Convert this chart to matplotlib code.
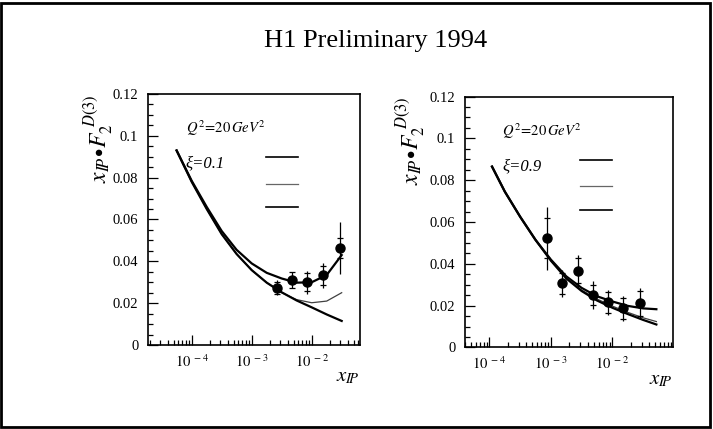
import numpy as np
import matplotlib
matplotlib.use('Agg')
import matplotlib.pyplot as plt
from matplotlib.ticker import LogLocator, FixedLocator, MultipleLocator
from matplotlib.patches import Rectangle

plt.rcParams['font.family'] = ['Liberation Serif', 'DejaVu Serif']
plt.rcParams['mathtext.fontset'] = 'stix'

# --- data ---
# left panel, xi = 0.1
xi1_x = [2.6e-3, 4.7e-3, 8.3e-3, 1.52e-2, 2.93e-2]
xi1_y = [0.0274, 0.0311, 0.0301, 0.0333, 0.0465]
xi1_stat = [0.0028, 0.0037, 0.0045, 0.0045, 0.0048]
xi1_tot = [0.0035, 0.0040, 0.0055, 0.0060, 0.0125]

xi1_curve_x = [5.6e-5, 1e-4, 1.78e-4, 3.16e-4, 5.6e-4, 1e-3, 1.78e-3, 3.16e-3, 5.6e-3, 1e-2, 1.78e-2, 3.16e-2]
xi1_fit_a = [0.093, 0.0785, 0.066, 0.0545, 0.0455, 0.039, 0.0345, 0.0318, 0.0298, 0.0300, 0.0335, 0.043]
xi1_fit_b = [0.093, 0.078, 0.065, 0.053, 0.0435, 0.0358, 0.0298, 0.0250, 0.0217, 0.0202, 0.0210, 0.025]
xi1_fit_c = [0.093, 0.078, 0.065, 0.053, 0.0435, 0.0358, 0.0298, 0.0252, 0.0213, 0.0180, 0.0146, 0.0115]

# right panel, xi = 0.9
xi9_x = [8.6e-4, 1.5e-3, 2.74e-3, 4.8e-3, 8.6e-3, 1.51e-2, 2.82e-2]
xi9_y = [0.0522, 0.0307, 0.0366, 0.0251, 0.0216, 0.0187, 0.0211]
xi9_stat = [0.0095, 0.0050, 0.0060, 0.0050, 0.0050, 0.0050, 0.0060]
xi9_tot = [0.0152, 0.0065, 0.0075, 0.0065, 0.0060, 0.0060, 0.0075]

xi9_curve_x = [1.1e-4, 1.78e-4, 3.16e-4, 5.6e-4, 1e-3, 1.78e-3, 3.16e-3, 5.6e-3, 1e-2, 1.78e-2, 3.16e-2, 5.2e-2]
xi9_fit_a = [0.0865, 0.0745, 0.0625, 0.0515, 0.0420, 0.0340, 0.0285, 0.0245, 0.0220, 0.0199, 0.0187, 0.0183]
xi9_fit_b = [0.0865, 0.0745, 0.0625, 0.0515, 0.0415, 0.0333, 0.0275, 0.0232, 0.0198, 0.0168, 0.0142, 0.0124]
xi9_fit_c = [0.0865, 0.0745, 0.0625, 0.0515, 0.0415, 0.0330, 0.0270, 0.0225, 0.0190, 0.0160, 0.0132, 0.0110]

y_ticks = [0, 0.02, 0.04, 0.06, 0.08, 0.1, 0.12]
y_tick_labels = ['0', '0.02', '0.04', '0.06', '0.08', '0.1', '0.12']
x_ticks = [1e-4, 1e-3, 1e-2]
x_tick_labels = [r'$10^{\ -4}$', r'$10^{\ -3}$', r'$10^{\ -2}$']

ylab = r'$x_{I\!P}\!\bullet\! F_2^{\ D(3)}$'


def draw_panel(ax, xlim, px, py, pstat, ptot, cx, fa, fb, fc, xi_text):
    ax.set_xscale('log')
    ax.set_xlim(*xlim)
    ax.set_ylim(0, 0.12)

    # three model curves
    ax.plot(cx, fa, color='k', lw=1.6)
    ax.plot(cx, fb, color='0.25', lw=0.9)
    ax.plot(cx, fc, color='k', lw=1.6)

    # data: total error line + stat error marks
    ax.errorbar(px, py, yerr=ptot, fmt='o', color='k', ms=6.5, elinewidth=0.9, capsize=0)
    ax.errorbar(px, py, yerr=pstat, fmt='none', ecolor='k', elinewidth=0, capsize=2.5, capthick=0.9)

    # legend lines (no labels in the original)
    for yy, col, lw in [(0.748, 'k', 1.2), (0.643, '0.4', 0.9), (0.548, 'k', 1.2)]:
        ax.plot([0.555, 0.707], [yy, yy], color=col, lw=lw, transform=ax.transAxes)

    ax.text(0.18, 0.862, r'$Q^2\!=\!20\,GeV^2$', transform=ax.transAxes,
            fontsize=10.5, va='center', ha='left')
    ax.text(0.178, 0.722, xi_text, transform=ax.transAxes, fontstyle='italic',
            fontsize=12, va='center', ha='left')

    ax.set_yticks(y_ticks)
    ax.set_yticklabels(y_tick_labels)
    ax.yaxis.set_minor_locator(MultipleLocator(0.005))
    ax.xaxis.set_major_locator(FixedLocator(x_ticks))
    ax.set_xticklabels(x_tick_labels)
    ax.xaxis.set_minor_locator(LogLocator(base=10, subs=np.arange(2, 10)))
    ax.tick_params(which='both', direction='in', labelsize=10.5, width=0.9)
    ax.tick_params(which='major', length=7)
    ax.tick_params(which='minor', length=3.5)
    ax.tick_params(axis='y', pad=7)
    ax.tick_params(axis='x', pad=6)
    for s in ax.spines.values():
        s.set_linewidth(1.2)

    ax.text(1.0, -0.128, r'$x_{I\!P}$', transform=ax.transAxes,
            fontsize=15, ha='right', va='center')


fig = plt.figure(figsize=(7.13, 4.29), dpi=100)

ax1 = fig.add_axes([0.2076, 0.1958, 0.2973, 0.5851])
draw_panel(ax1, (1.87e-5, 0.0638), xi1_x, xi1_y, xi1_stat, xi1_tot,
           xi1_curve_x, xi1_fit_a, xi1_fit_b, xi1_fit_c, 'ξ=0.1')
ax1.text(-0.236, 1.0, ylab, transform=ax1.transAxes,
         rotation=90, fontsize=17, ha='center', va='top')

ax2 = fig.add_axes([0.6522, 0.19, 0.2917, 0.585])
draw_panel(ax2, (4.0e-5, 0.097), xi9_x, xi9_y, xi9_stat, xi9_tot,
           xi9_curve_x, xi9_fit_a, xi9_fit_b, xi9_fit_c, 'ξ=0.9')
ax2.text(-0.264, 1.0, ylab, transform=ax2.transAxes,
         rotation=90, fontsize=17, ha='center', va='top')

fig.text(0.527, 0.904, 'H1 Preliminary 1994', ha='center', va='center', fontsize=19)

# frame around the whole slide
fig.patches.append(Rectangle((0.002, 0.004), 0.994, 0.99, transform=fig.transFigure,
                             fill=False, lw=2, edgecolor='k'))

fig.savefig('out.png', dpi=100)
